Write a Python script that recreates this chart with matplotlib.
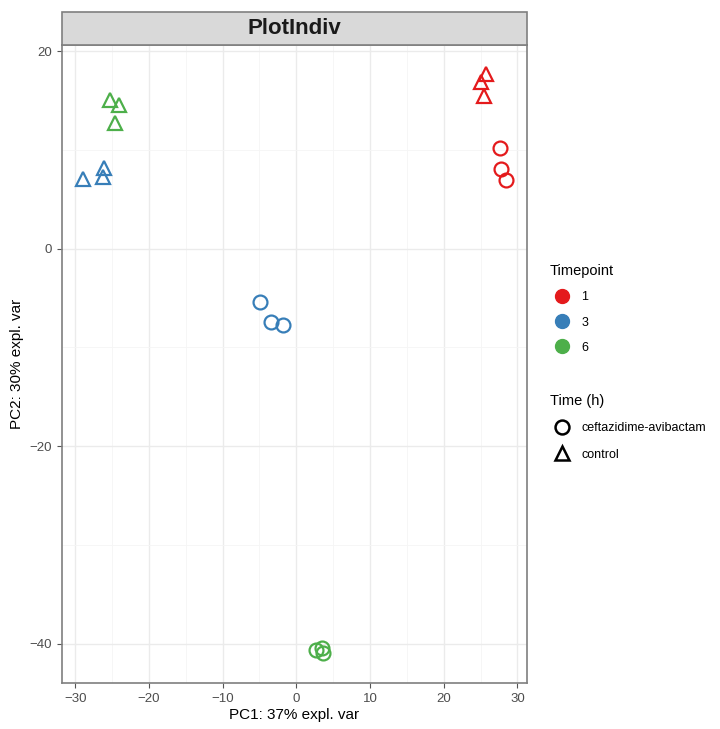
import matplotlib.pyplot as plt
from matplotlib.lines import Line2D
from matplotlib.patches import Rectangle

# PCA scores per sample: PC1, PC2, timepoint and treatment
pc1 = [25.7, 25.1, 25.4, 27.6, 27.8, 28.4,
       -25.3, -24.1, -24.6, -28.9, -26.1, -26.2,
       -4.9, -3.5, -1.8, 2.7, 3.5, 3.6]
pc2 = [17.7, 16.9, 15.5, 10.2, 8.1, 6.9,
       15.0, 14.5, 12.7, 7.0, 8.2, 7.3,
       -5.4, -7.4, -7.7, -40.7, -40.4, -41.0]
timepoint = ['1', '1', '1', '1', '1', '1',
             '6', '6', '6', '3', '3', '3',
             '3', '3', '3', '6', '6', '6']
treatment = ['control'] * 3 + ['ceftazidime-avibactam'] * 3 + ['control'] * 6 + \
            ['ceftazidime-avibactam'] * 6

tp_levels = ['1', '3', '6']
tp_colors = {'1': '#E41A1C', '3': '#377EB8', '6': '#4DAF4A'}
tr_levels = ['ceftazidime-avibactam', 'control']
tr_markers = {'ceftazidime-avibactam': 'o', 'control': '^'}

xticks = [-30, -20, -10, 0, 10, 20, 30]
yticks = [-40, -20, 0, 20]

plt.rcParams['font.family'] = ['Liberation Sans', 'DejaVu Sans']

fig = plt.figure(figsize=(7.2, 7.29), dpi=100)
ax = fig.add_axes([0.086, 0.063, 0.646, 0.875])

for x, y, t, tr in zip(pc1, pc2, timepoint, treatment):
    ax.plot(x, y, linestyle='none', marker=tr_markers[tr], markersize=10,
            markerfacecolor='none', markeredgecolor=tp_colors[t],
            markeredgewidth=1.6, zorder=3)

ax.set_xlim(-31.8, 31.3)
ax.set_ylim(-44.0, 20.6)
ax.set_xticks(xticks)
ax.set_yticks(yticks)
ax.set_xticks(range(-25, 31, 10), minor=True)
ax.set_yticks([-30, -10, 10], minor=True)
ax.set_xticklabels(['\u221230', '\u221220', '\u221210', '0', '10', '20', '30'])
ax.set_yticklabels(['\u221240', '\u221220', '0', '20'])
ax.grid(which='major', color='#EBEBEB', linewidth=1.0)
ax.grid(which='minor', color='#F5F5F5', linewidth=0.6)
ax.set_axisbelow(True)
for s in ax.spines.values():
    s.set_color('#7F7F7F')
    s.set_linewidth(1.2)
ax.tick_params(which='major', length=3.5, color='#555555', labelcolor='#4D4D4D',
               labelsize=9.5)
ax.tick_params(which='minor', length=0)
ax.set_xlabel('PC1: 37% expl. var', fontsize=11, labelpad=2)
ax.set_ylabel('PC2: 30% expl. var', fontsize=11, labelpad=4)

# facet strip with the title
strip = Rectangle((0.086, 0.938), 0.646, 0.046, transform=fig.transFigure,
                  facecolor='#D9D9D9', edgecolor='#7F7F7F', linewidth=1.2)
fig.patches.append(strip)
fig.text(0.409, 0.961, 'PlotIndiv', ha='center', va='center',
         fontsize=16, fontweight='bold', color='#1A1A1A')

tp_handles = [Line2D([], [], linestyle='none', marker='o', markersize=10,
                     color=tp_colors[t]) for t in tp_levels]
leg1 = fig.legend(tp_handles, tp_levels, title='Timepoint',
                  loc='upper left', bbox_to_anchor=(0.755, 0.646),
                  frameon=False, fontsize=9, title_fontsize=10.5,
                  handletextpad=0.5, labelspacing=1.05, borderpad=0)
leg1._legend_box.align = 'left'

tr_handles = [Line2D([], [], linestyle='none', marker=tr_markers[tr],
                     markersize=10, markerfacecolor='none',
                     markeredgecolor='black', markeredgewidth=1.8)
              for tr in tr_levels]
leg2 = fig.legend(tr_handles, tr_levels, title='Time (h)',
                  loc='upper left', bbox_to_anchor=(0.755, 0.468),
                  frameon=False, fontsize=9, title_fontsize=10.5,
                  handletextpad=0.5, labelspacing=1.15, borderpad=0)
leg2._legend_box.align = 'left'

plt.savefig('out.png', dpi=100)
